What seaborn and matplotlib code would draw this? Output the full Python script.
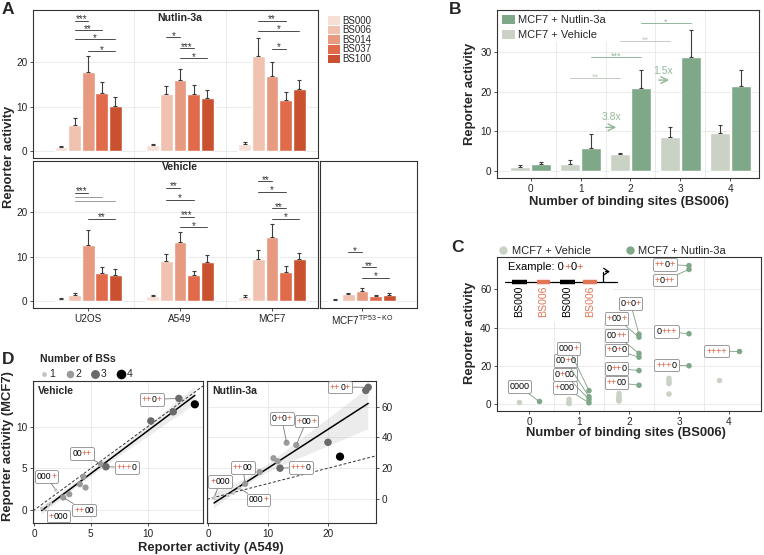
import numpy as np
import pandas as pd
import matplotlib
matplotlib.use("Agg")
import matplotlib.pyplot as plt
import seaborn as sns
from matplotlib.offsetbox import TextArea, HPacker, AnnotationBbox
from matplotlib.lines import Line2D
from matplotlib.patches import Rectangle
from matplotlib.collections import PolyCollection
from matplotlib.ticker import FixedLocator

# ---------------- panel A data (mean, top of error bar) ----------------
promoters = ['BS000', 'BS006', 'BS014', 'BS037', 'BS100']
cell_lines = ['U2OS', 'A549', 'MCF7']
ko_line = 'MCF7 TP53-KO'

nut_u2os = [1.0, 6.0, 17.8, 13.0, 10.2]
nut_u2os_up = [1.2, 7.5, 21.4, 15.5, 12.2]
nut_a549 = [1.4, 12.8, 16.1, 12.9, 11.9]
nut_a549_up = [1.6, 14.6, 18.4, 14.8, 13.7]
nut_mcf7 = [1.7, 21.3, 16.9, 11.5, 14.0]
nut_mcf7_up = [2.2, 25.5, 20.0, 13.4, 16.0]

veh_u2os = [0.45, 1.35, 12.7, 6.3, 5.9]
veh_u2os_up = [0.6, 1.7, 16.0, 7.6, 7.2]
veh_a549 = [1.1, 9.0, 13.3, 5.8, 8.9]
veh_a549_up = [1.3, 10.6, 15.6, 6.8, 10.4]
veh_mcf7 = [1.0, 9.5, 14.4, 6.5, 9.5]
veh_mcf7_up = [1.3, 11.5, 17.4, 7.8, 10.8]
veh_ko = [0.3, 1.5, 2.3, 1.1, 1.4]
veh_ko_up = [0.35, 1.7, 2.9, 1.3, 1.7]

# (cell, promoter a, promoter b, height, label)
sig_nutlin = [
    ('U2OS', 'BS006', 'BS014', 29.3, '***'),
    ('U2OS', 'BS006', 'BS037', 27.2, '**'),
    ('U2OS', 'BS006', 'BS100', 25.1, '*'),
    ('U2OS', 'BS014', 'BS100', 22.5, '*'),
    ('A549', 'BS006', 'BS014', 25.6, '*'),
    ('A549', 'BS014', 'BS037', 23.1, '***'),
    ('A549', 'BS014', 'BS100', 20.9, '*'),
    ('MCF7', 'BS006', 'BS037', 29.3, '**'),
    ('MCF7', 'BS006', 'BS100', 27.1, '*'),
    ('MCF7', 'BS014', 'BS037', 23.0, '*'),
]
sig_vehicle = [
    ('U2OS', 'BS006', 'BS014', 24.4, '***'),
    ('U2OS', 'BS006', 'BS037', 23.5, ''),
    ('U2OS', 'BS006', 'BS100', 22.6, ''),
    ('U2OS', 'BS014', 'BS100', 18.6, '**'),
    ('A549', 'BS006', 'BS014', 25.6, '**'),
    ('A549', 'BS006', 'BS037', 22.9, '*'),
    ('A549', 'BS014', 'BS037', 19.0, '***'),
    ('A549', 'BS014', 'BS100', 16.6, '*'),
    ('MCF7', 'BS006', 'BS014', 27.1, '**'),
    ('MCF7', 'BS006', 'BS037', 24.7, '*'),
    ('MCF7', 'BS014', 'BS037', 20.9, '**'),
    ('MCF7', 'BS014', 'BS100', 18.6, '*'),
]
sig_ko = [
    (ko_line, 'BS006', 'BS014', 11.0, '*'),
    (ko_line, 'BS014', 'BS037', 7.6, '**'),
    (ko_line, 'BS014', 'BS100', 5.3, '*'),
]

# ---------------- panel B data ----------------
veh_name = 'MCF7 + Vehicle'
nut_name = 'MCF7 + Nutlin-3a'
sites = [0, 1, 2, 3, 4]
b_veh = [0.9, 1.8, 4.2, 8.6, 9.5]
b_veh_up = [1.4, 2.8, 4.5, 11.2, 11.5]
b_nut = [1.8, 5.8, 20.9, 28.7, 21.3]
b_nut_up = [2.2, 9.2, 25.5, 35.5, 25.5]
b_sig = [
    (nut_name, 2, 3, 37.3, '*'),
    (veh_name, 2, 3, 32.7, '**'),
    (nut_name, 1, 2, 28.7, '***'),
    (veh_name, 1, 2, 23.4, '**'),
]
fold_labels = ['3.8x', '1.5x']

# ---------------- panels C / D data (per construct) ----------------
combos = ['0000', '+000', '0+00', '00+0', '000+', '++00', '+0+0', '0++0',
          '+00+', '0+0+', '00++', '+++0', '0+++', '+0++', '++0+', '++++']
mcf7_veh = [1.0, 0.2, 0.6, 0.8, 2.4, 1.5, 1.9, 3.1, 4.0, 2.7, 5.5, 5.2, 10.7, 11.8, 13.4, 12.7]
mcf7_nut = [1.3, 0.6, 2.3, 3.8, 7.0, 9.8, 24.5, 17.5, 35.0, 36.5, 26.5, 20.0, 36.8, 70.5, 72.5, 27.5]
a549_veh = [1.0, 0.65, 1.2, 1.45, 1.9, 2.56, 3.09, 4.03, 4.33, 4.53, 5.89, 6.33, 10.3, 12.27, 12.77, 14.18]
a549_nut = [1.0, 1.0, 3.3, 4.2, 5.2, 6.2, 11.6, 8.6, 14.7, 13.1, 10.9, 12.0, 20.0, 26.3, 26.7, 22.0]

c_label_pos = {
    '0000': (-0.19, 9.1), '000+': (0.79, 29.2), '00+0': (0.73, 22.7),
    '0+00': (0.72, 15.5), '+000': (0.72, 8.5), '0+0+': (2.03, 52.7),
    '+00+': (1.75, 44.9), '00++': (1.75, 35.8), '+0+0': (1.75, 28.3),
    '0++0': (1.75, 18.7), '++00': (1.75, 11.2), '++0+': (2.72, 73.1),
    '+0++': (2.72, 64.9), '0+++': (2.75, 37.9), '+++0': (2.75, 20.4),
    '++++': (3.75, 27.7),
}
d_veh_label_pos = {'++0+': (10.36, 13.3), '00++': (4.24, 6.8), '+++0': (8.16, 5.13),
                   '000+': (1.09, 4.0), '++00': (4.41, 0.0), '+000': (2.12, -0.72)}
d_nut_label_pos = {'++0+': (22.0, 72.7), '0+0+': (12.3, 52.4), '+00+': (16.4, 50.6),
                   '+++0': (15.45, 20.6), '++00': (5.8, 20.6), '+000': (2.0, 11.2),
                   '000+': (8.4, -0.6)}

# ---------------- style ----------------
bs_colors = ['#f7dfd6', '#f1c2b0', '#e79a80', '#e06a4a', '#c9512f']
veh_col = '#c9d2c5'
nut_col = '#7fa888'
nut_light = '#93b79a'
plus_red = '#dc5a3c'
n_colors = {1: '#c4c4c4', 2: '#9a9a9a', 3: '#6a6a6a', 4: '#000000'}
n_sizes = {1: 6, 2: 20, 3: 29, 4: 35}

sns.set_theme(style='whitegrid', rc={
    'grid.color': '#e8e8e8', 'grid.linewidth': 0.6,
    'axes.edgecolor': '#333333', 'axes.linewidth': 0.8,
    'xtick.bottom': True, 'ytick.left': True,
    'xtick.major.size': 2.5, 'ytick.major.size': 2.5,
    'xtick.major.width': 0.6, 'ytick.major.width': 0.6,
    'xtick.color': '#333333', 'ytick.color': '#333333',
    'xtick.labelsize': 7.2, 'ytick.labelsize': 7.2,
    'xtick.major.pad': 1.5, 'ytick.major.pad': 1.5,
})
plt.rcParams['font.family'] = ['Liberation Sans', 'DejaVu Sans']

W, H = 764, 555
fig = plt.figure(figsize=(W / 100, H / 100), dpi=100)


def px_axes(left, top, right, bottom):
    return fig.add_axes([left / W, 1 - bottom / H, (right - left) / W, (bottom - top) / H])


def fig_text(x, y, s, **kw):
    fig.text(x / W, 1 - y / H, s, **kw)


def style_ax(ax):
    for s in ax.spines.values():
        s.set_visible(True)
        s.set_color('#333333')
        s.set_linewidth(0.8)
    ax.set_xlabel('')
    ax.set_ylabel('')
    ax.tick_params(labelcolor='#222222')


def minor_xgrid(ax, where):
    ax.xaxis.grid(False, which='major')
    ax.xaxis.set_minor_locator(FixedLocator(where))
    ax.grid(True, axis='x', which='minor', color='#e8e8e8', lw=0.6)
    ax.tick_params(axis='x', which='minor', length=0)


def tag(s, fs):
    runs = []
    for ch in s:
        col = plus_red if ch == '+' else 'black'
        if runs and runs[-1][1] == col:
            runs[-1][0] += ch
        else:
            runs.append([ch, col])
    kids = [TextArea(t, textprops=dict(color=c, fontsize=fs)) for t, c in runs]
    return HPacker(children=kids, align='baseline', pad=0, sep=0)


def boxed(ax, s, xy, xybox, fs, line_col):
    ab = AnnotationBbox(tag(s, fs), xy, xybox=xybox, xycoords='data', boxcoords='data',
                        frameon=True, box_alignment=(0.5, 0.5),
                        bboxprops=dict(boxstyle='round,pad=0.12,rounding_size=0.12',
                                       ec='#8a8a8a', lw=0.6, fc='white'),
                        arrowprops=dict(arrowstyle='-', color=line_col, lw=0.6,
                                        shrinkA=0, shrinkB=1.5))
    ab.set_zorder(6)
    ax.add_artist(ab)


def long_frame(table):
    rows = []
    for cell, (means, ups) in table.items():
        for p, m, u in zip(promoters, means, ups):
            rows.append(dict(cell=cell, promoter=p, mean=m, upper=u))
    return pd.DataFrame(rows)


def bar_panel(ax, df, order):
    sns.barplot(data=df, x='cell', y='mean', hue='promoter', order=order,
                hue_order=promoters, palette=bs_colors, width=0.74, gap=0.06,
                saturation=1, errorbar=None, legend=False, ax=ax)
    centers = {}
    for prom, cont in zip(promoters, ax.containers):
        for cell, bar in zip(order, cont):
            centers[(cell, prom)] = bar.get_x() + bar.get_width() / 2
    d = df.set_index(['cell', 'promoter'])
    for key, xc in centers.items():
        m, u = d.loc[key, 'mean'], d.loc[key, 'upper']
        ax.errorbar(xc, m, yerr=[[0], [u - m]], fmt='none', ecolor='#3c3c3c',
                    elinewidth=0.8, capsize=1.6, capthick=0.8)
    return centers


def sig_marks(ax, centers, sigs, fs=7):
    for cell, p1, p2, y, lab in sigs:
        col = '#4a4a4a' if lab else '#9a9a9a'
        x1, x2 = centers[(cell, p1)], centers[(cell, p2)]
        ax.plot([x1, x2], [y, y], color=col, lw=0.7)
        if lab:
            ax.annotate(lab, xy=((x1 + x2) / 2, y), xytext=(0, -1.2),
                        textcoords='offset points', ha='center', va='baseline',
                        fontsize=fs, color='#333333')


# ======================= panel A =======================
df_nut = long_frame({'U2OS': (nut_u2os, nut_u2os_up), 'A549': (nut_a549, nut_a549_up),
                     'MCF7': (nut_mcf7, nut_mcf7_up)})
df_veh = long_frame({'U2OS': (veh_u2os, veh_u2os_up), 'A549': (veh_a549, veh_a549_up),
                     'MCF7': (veh_mcf7, veh_mcf7_up)})
df_ko = long_frame({ko_line: (veh_ko, veh_ko_up)})

axA1 = px_axes(33, 10, 318, 158)
cen = bar_panel(axA1, df_nut, cell_lines)
sig_marks(axA1, cen, sig_nutlin)
style_ax(axA1)
axA1.set_xlim(-0.6, 2.5)
axA1.set_ylim(-1.48, 31.7)
axA1.set_yticks([0, 10, 20])
minor_xgrid(axA1, [0.5, 1.5])
axA1.tick_params(axis='x', bottom=False, labelbottom=False)
axA1.text(1, 0.949, 'Nutlin-3a', transform=axA1.get_xaxis_transform(), ha='center',
          va='center', fontsize=7.6, fontweight='bold')

axA2 = px_axes(33, 161, 318, 308)
cen = bar_panel(axA2, df_veh, cell_lines)
sig_marks(axA2, cen, sig_vehicle)
style_ax(axA2)
axA2.set_xlim(-0.6, 2.5)
axA2.set_ylim(-1.58, 31.6)
axA2.set_yticks([0, 10, 20])
minor_xgrid(axA2, [0.5, 1.5])
axA2.text(1, 0.959, 'Vehicle', transform=axA2.get_xaxis_transform(), ha='center',
          va='center', fontsize=7.6, fontweight='bold')

axA3 = px_axes(320, 161, 417, 308)
cen = bar_panel(axA3, df_ko, [ko_line])
sig_marks(axA3, cen, sig_ko)
style_ax(axA3)
axA3.set_xlim(-0.457, 0.598)
axA3.set_ylim(-1.58, 31.6)
axA3.set_yticks([0, 10, 20])
axA3.xaxis.grid(False)
axA3.tick_params(axis='y', left=False, labelleft=False)
axA3.set_xticks([0])
axA3.set_xticklabels([r'MCF7$^{\mathregular{TP53-KO}}$'])

fig_text(9, 157, 'Reporter activity', rotation=90, ha='center', va='center',
         fontsize=9.4, fontweight='bold')

# promoter legend
for i, (p, c) in enumerate(zip(promoters, bs_colors)):
    yc = 20.5 + i * 9.6
    fig.add_artist(Rectangle((328 / W, 1 - (yc + 4.3) / H), 11.7 / W, 8.6 / H,
                             transform=fig.transFigure, fc=c, ec='none'))
    fig_text(342, yc, p, ha='left', va='center', fontsize=7.0)

# ======================= panel B =======================
bdf = pd.DataFrame({'sites': sites * 2,
                    'treatment': [veh_name] * 5 + [nut_name] * 5,
                    'value': b_veh + b_nut, 'upper': b_veh_up + b_nut_up})
axB = px_axes(497, 10, 759, 178)
sns.barplot(data=bdf, x='sites', y='value', hue='treatment', hue_order=[veh_name, nut_name],
            palette=[veh_col, nut_col], width=0.84, gap=0.05, saturation=1,
            errorbar=None, legend=False, ax=axB)
b_cent = {}
bd = bdf.set_index(['treatment', 'sites'])
for tr, cont in zip([veh_name, nut_name], axB.containers):
    for s, bar in zip(sites, cont):
        xc = bar.get_x() + bar.get_width() / 2
        b_cent[(tr, s)] = xc
        m, u = bd.loc[(tr, s), 'value'], bd.loc[(tr, s), 'upper']
        axB.errorbar(xc, m, yerr=[[0], [u - m]], fmt='none', ecolor='#3c3c3c',
                     elinewidth=0.8, capsize=1.6, capthick=0.8)
for tr, s1, s2, y, lab in b_sig:
    col = nut_light if tr == nut_name else '#c3cac1'
    x1, x2 = b_cent[(tr, s1)], b_cent[(tr, s2)]
    axB.plot([x1, x2], [y, y], color=col, lw=0.7)
    axB.annotate(lab, xy=((x1 + x2) / 2, y), xytext=(0, -1.2), textcoords='offset points',
                 ha='center', va='baseline', fontsize=6.5, color=col)
axB.text(1.62, 13.5, fold_labels[0], color=nut_light, fontsize=7.5,
         ha='center', va='center')
axB.annotate('', xy=(1.77, 11.0), xytext=(1.45, 11.0),
             arrowprops=dict(arrowstyle='->', color=nut_light, lw=1.0))
axB.text(2.66, 25.2, fold_labels[1], color=nut_light, fontsize=7.5, ha='center', va='center')
axB.annotate('', xy=(2.83, 22.9), xytext=(2.51, 22.9),
             arrowprops=dict(arrowstyle='->', color=nut_light, lw=1.0))
style_ax(axB)
axB.set_xlim(-0.68, 4.58)
axB.set_ylim(-1.76, 40.55)
axB.set_yticks([0, 10, 20, 30])
minor_xgrid(axB, [0.5, 1.5, 2.5, 3.5])
b_handles = [Rectangle((0, 0), 1, 1, fc=nut_col, ec='none'),
             Rectangle((0, 0), 1, 1, fc=veh_col, ec='none')]
legB = axB.legend(b_handles, [nut_name, veh_name], loc='upper left', bbox_to_anchor=(0, 1),
                  borderaxespad=0.3, borderpad=0.15, fontsize=8, frameon=True,
                  handlelength=1.15, handleheight=0.85, handletextpad=0.3,
                  labelspacing=0.4)
legB.get_frame().set_facecolor('white')
legB.get_frame().set_edgecolor('none')
legB.get_frame().set_alpha(1)
fig_text(470, 94, 'Reporter activity', rotation=90, ha='center', va='center',
         fontsize=9.4, fontweight='bold')
fig_text(629, 202, 'Number of binding sites (BS006)', ha='center', va='center',
         fontsize=9.4, fontweight='bold')

# ======================= panel C =======================
n_sites = [c.count('+') for c in combos]
cdf = pd.DataFrame({'combo': combos * 2, 'sites': n_sites * 2,
                    'treatment': [veh_name] * 16 + [nut_name] * 16,
                    'activity': mcf7_veh + mcf7_nut})
axC = px_axes(497, 257, 761, 411)
sns.stripplot(data=cdf, x='sites', y='activity', hue='treatment',
              hue_order=[veh_name, nut_name], palette=[veh_col, nut_col], dodge=True,
              jitter=False, size=4.0, linewidth=0, legend=False, ax=axC, zorder=3)
style_ax(axC)
axC.set_xlim(-0.64, 4.64)
axC.set_ylim(-3.7, 77)
axC.set_yticks([0, 20, 40, 60])
minor_xgrid(axC, [0.5, 1.5, 2.5, 3.5])
strip_dodge = 0.2
for combo, n, v in zip(combos, n_sites, mcf7_nut):
    boxed(axC, combo, (n + strip_dodge, v), c_label_pos[combo], 6.5, '#7f9c85')

# example construct inset (axes fraction)
axC.add_patch(Rectangle((0, 0.58), 0.44, 0.42, transform=axC.transAxes,
                        fc='white', ec='none', zorder=0.8))
ab = AnnotationBbox(tag('Example: 0+0+', 8), (0.043, 0.937), xycoords='axes fraction',
                    box_alignment=(0, 0.5), frameon=False)
axC.add_artist(ab)
axC.plot([0.030, 0.453], [0.836, 0.836], transform=axC.transAxes, color='black', lw=0.9)
site_seg = [(0.055, 0.112, 'black', 'BS000'), (0.150, 0.201, '#e07657', 'BS006'),
            (0.239, 0.295, 'black', 'BS000'), (0.327, 0.378, '#e07657', 'BS006')]
for x0, x1, col, name in site_seg:
    axC.plot([x0, x1], [0.836, 0.836], transform=axC.transAxes, color=col, lw=3.2,
             solid_capstyle='butt')
    axC.text((x0 + x1) / 2, 0.815, name, transform=axC.transAxes, rotation=90,
             ha='center', va='top', fontsize=7.6, color=col)
axC.plot([0.402, 0.402], [0.836, 0.905], transform=axC.transAxes, color='black', lw=0.9)
axC.annotate('', xy=(0.438, 0.905), xytext=(0.400, 0.905), xycoords='axes fraction',
             arrowprops=dict(arrowstyle='->,head_length=0.3,head_width=0.2',
                             color='black', lw=0.9))
c_handles = [Line2D([], [], marker='o', ls='', color=veh_col, markersize=5),
             Line2D([], [], marker='o', ls='', color=nut_col, markersize=5)]
axC.legend(c_handles, [veh_name, nut_name], loc='lower left', bbox_to_anchor=(0.005, 1.005),
           ncol=2, frameon=False, fontsize=8, borderaxespad=0, borderpad=0,
           handlelength=0.8, handletextpad=0.4, columnspacing=3.1)
fig_text(470, 333, 'Reporter activity', rotation=90, ha='center', va='center',
         fontsize=9.4, fontweight='bold')
fig_text(626, 433, 'Number of binding sites (BS006)', ha='center', va='center',
         fontsize=9.4, fontweight='bold')

# ======================= panel D =======================
ddf = pd.DataFrame({'combo': combos, 'sites': n_sites, 'a549_veh': a549_veh,
                    'mcf7_veh': mcf7_veh, 'a549_nut': a549_nut, 'mcf7_nut': mcf7_nut})
ddf = ddf[ddf['sites'] > 0]


def scatter_panel(ax, xcol, ycol, labels):
    sns.regplot(data=ddf, x=xcol, y=ycol, scatter=False, color='black', seed=3,
                line_kws=dict(lw=1.1, zorder=2), ax=ax)
    for coll in ax.collections:
        if isinstance(coll, PolyCollection):
            coll.set_facecolor((0.5, 0.5, 0.5, 0.18))
            coll.set_edgecolor('none')
    sns.scatterplot(data=ddf, x=xcol, y=ycol, hue='sites', palette=n_colors,
                    size='sites', sizes=n_sizes, linewidth=0, legend=False, ax=ax, zorder=3)
    ax.axline((0, 0), slope=1, ls=(0, (3, 2)), color='#333333', lw=0.7, zorder=2)
    rows = ddf.set_index('combo')
    for combo, pos in labels.items():
        boxed(ax, combo, (rows.loc[combo, xcol], rows.loc[combo, ycol]), pos, 6.2, '#777777')
    style_ax(ax)


axD1 = px_axes(33, 381, 203, 523)
scatter_panel(axD1, 'a549_veh', 'mcf7_veh', d_veh_label_pos)
axD1.set_xlim(-0.11, 14.9)
axD1.set_ylim(-1.56, 15.5)
axD1.set_xticks([0, 5, 10])
axD1.set_yticks([0, 5, 10])
axD1.text(0.03, 0.93, 'Vehicle', transform=axD1.transAxes, ha='left', va='center',
          fontsize=7.6, fontweight='bold')

axD2 = px_axes(207, 381, 376, 523)
scatter_panel(axD2, 'a549_nut', 'mcf7_nut', d_nut_label_pos)
axD2.set_xlim(-0.17, 28)
axD2.set_ylim(-15.6, 76.6)
axD2.set_xticks([0, 10, 20])
axD2.set_yticks([0, 20, 40, 60])
axD2.yaxis.tick_right()
axD2.tick_params(axis='y', right=True, left=False)
axD2.text(0.03, 0.93, 'Nutlin-3a', transform=axD2.transAxes, ha='left', va='center',
          fontsize=7.6, fontweight='bold')

d_handles = [Line2D([], [], marker='o', ls='', color=n_colors[k],
                    markersize=np.sqrt(n_sizes[k])) for k in [1, 2, 3, 4]]
fig.legend(d_handles, ['1', '2', '3', '4'], title='Number of BSs', loc='upper left',
           bbox_to_anchor=(35 / W, 1 - 349 / H), ncol=4, frameon=False, fontsize=7.5,
           title_fontproperties={'weight': 'bold', 'size': 7.6}, alignment='left',
           borderpad=0, handlelength=0.7, handletextpad=0.2, columnspacing=1.0)
fig_text(8, 446, 'Reporter activity (MCF7)', rotation=90, ha='center', va='center',
         fontsize=9.4, fontweight='bold')
fig_text(211, 548, 'Reporter activity (A549)', ha='center', va='center',
         fontsize=9.4, fontweight='bold')

# panel letters
for letter, x, y in [('A', 8, 9), ('B', 455, 9), ('C', 457, 248), ('D', 8, 360)]:
    fig_text(x, y, letter, ha='center', va='center', fontsize=12.5, fontweight='bold')

fig.savefig('out.png', dpi=100)
